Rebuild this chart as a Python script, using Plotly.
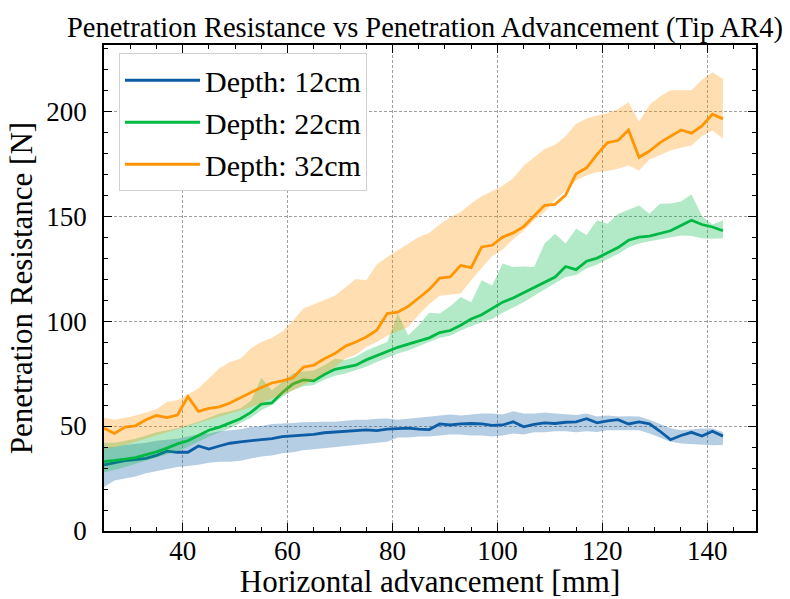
import plotly.graph_objects as go

x_mm = list(range(25, 145, 2))

d12_mean = [31.5, 32.5, 33.5, 34, 34.6, 36, 38, 37.5, 37.5, 40.5, 39, 40.5, 41.8, 42.5, 43, 43.5, 44, 45, 45.3, 45.5,
            46, 46.8, 47.2, 47.6, 48, 48.2, 47.8, 48.5, 48.8, 49, 48.5, 48.3, 51, 50.5, 51, 51.2, 51, 50.3, 50.5, 52,
            49.6, 50.8, 51.5, 51.2, 51.8, 52, 53.5, 51.5, 52.5, 53, 51, 52, 51, 47.5, 43.5, 45.5, 47, 45.2, 47.5, 45.2]
d12_low = [21, 24, 25, 26, 27.5, 28.5, 29.5, 30.5, 31, 31.5, 32.5, 33, 33, 33.5, 34.5, 35.5, 36, 37, 37.5, 38.5,
           39, 39.5, 40, 40.5, 41, 41.5, 42, 42.5, 44.5, 44.5, 45, 45, 45.5, 46, 46, 45.5, 45.5, 45, 45.5, 46.5,
           46, 47, 47, 47.5, 47.5, 47, 47.5, 47.2, 48, 48, 48, 48, 46.5, 44.5, 42.5, 41.7, 41.5, 41, 40.9, 41]
d12_high = [40, 40, 41, 41.5, 42, 43, 43.5, 44, 45, 46, 46.5, 47.5, 48, 48.5, 49.5, 50, 51, 51.4, 51.5, 51.8,
            52, 52, 52, 52.5, 53, 53, 53.5, 53.6, 53, 53.5, 54, 54.5, 55.2, 55.5, 55, 55.5, 56, 56, 55.5, 57,
            56, 56, 56.5, 56, 55.5, 55.2, 56, 54.5, 55, 54.5, 54.7, 54.5, 53, 51, 49, 48, 48.5, 48.8, 48.8, 47.2]

d22_mean = [33, 33.5, 34.2, 35, 36.3, 37.7, 39.5, 41.5, 43, 45.5, 48, 49.5, 51.5, 53.5, 56.5, 60.5, 61, 66, 70, 72,
            71.5, 74.5, 77, 78, 79, 81.5, 83.5, 85.5, 87.5, 89, 90.5, 92, 94.5, 95.5, 98, 101, 103, 106, 109, 111,
            113.5, 116, 118.5, 121, 126, 124.5, 128.5, 130, 132.5, 135, 138.5, 140, 140.5, 141.6, 143, 145.5, 148, 146, 144.8, 143]
d22_low = [28, 29, 30.5, 32, 33.5, 35, 36.5, 38, 40, 42.5, 45, 47, 49, 51.5, 54, 57.5, 60, 64, 67, 69,
           69.5, 72, 74, 75, 76.5, 78.2, 80.5, 82.5, 84.5, 86, 88, 90, 92, 93, 95.5, 97.5, 99.5, 101, 104, 106.5,
           109, 112, 115, 118, 121, 122, 125, 127, 129.5, 132, 135, 137, 138, 139, 140, 140.8, 140.5, 139.5, 139.2, 139.5]
d22_high = [42, 42, 43, 44, 45.5, 47, 48, 49, 50.5, 52, 54, 56, 57, 58.5, 62, 73, 67, 71, 75, 76,
            76.5, 79, 82, 81.5, 83, 86, 88, 90, 103.6, 93.2, 98, 104, 103.6, 107, 111.5, 109, 119.4, 117, 127.4, 125.7,
            126, 125.7, 137, 141.6, 137, 144, 141, 148, 146.4, 151, 153, 155, 151.1, 155.9, 156, 157, 160.3, 150, 146, 148]

d32_mean = [49, 46.5, 49.5, 50.1, 53, 55, 54, 55.2, 64, 57, 58.4, 59.1, 61, 63.5, 66, 68.4, 70.5, 71.5, 73, 78,
            79, 82, 84.5, 88, 90, 92.4, 95.6, 103.6, 104.3, 107, 111, 115, 120.5, 121, 126.5, 125.4, 135.3, 136.1, 140, 142,
            145, 150, 155.1, 155.6, 160, 170.2, 173, 179.4, 185, 186, 191, 178, 181, 185, 188, 191, 189.5, 193, 198.5, 196.3]
d32_low = [39, 40, 41, 42.5, 44, 45.5, 47, 48.5, 50, 51.5, 53, 54.5, 56, 57.5, 59, 61, 63, 65, 67, 69.5,
           72, 75, 78, 82, 84, 87.7, 90, 93, 95, 97.2, 103, 108, 112, 112.5, 113.1, 119.4, 125, 131, 134, 139,
           143, 148, 152, 158, 162, 167, 169.5, 170.9, 171.5, 172.5, 174.1, 171.7, 177, 179, 181.3, 182.5, 183.6, 188, 190.8, 186.8]
d32_high = [54, 53, 54, 55, 56.5, 58, 61.5, 62.3, 65, 68, 72.6, 77.5, 80.5, 82, 87, 90, 92, 95, 100, 106,
            108, 109.9, 112, 116, 120, 119.4, 127, 130.5, 133.7, 137, 140, 142, 146, 149.5, 151.9, 156, 159.5, 162, 164.5, 168,
            174, 178, 182, 184, 188, 194, 196.5, 197.9, 199, 201, 204.2, 195, 203, 207, 210, 210, 210, 215, 218.5, 215.4]

series = [
    ("Depth: 12cm", d12_mean, d12_low, d12_high, "#0C5DA5", "rgba(12,93,165,0.3)"),
    ("Depth: 22cm", d22_mean, d22_low, d22_high, "#00B945", "rgba(0,185,69,0.3)"),
    ("Depth: 32cm", d32_mean, d32_low, d32_high, "#FF9500", "rgba(255,149,0,0.3)"),
]

FONT = "Liberation Serif"
fig = go.Figure()
for name, mean, low, high, col, fillcol in series:
    fig.add_trace(go.Scatter(x=x_mm, y=low, mode="lines", line=dict(width=0, color=fillcol),
                             showlegend=False, hoverinfo="skip"))
    fig.add_trace(go.Scatter(x=x_mm, y=high, mode="lines", line=dict(width=0, color=fillcol),
                             fill="tonexty", fillcolor=fillcol, showlegend=False, hoverinfo="skip"))
    fig.add_trace(go.Scatter(x=x_mm, y=mean, mode="lines", name=name, line=dict(width=2.8, color=col)))

axis_common = dict(
    showline=True, linecolor="black", linewidth=1.5, mirror="allticks",
    ticks="inside", ticklen=8, tickwidth=1, tickcolor="black",
    showgrid=True, gridcolor="#a0a0a0", gridwidth=0.7, griddash="3px,2px",
    zeroline=False, tickfont=dict(family=FONT, size=27, color="black"),
    automargin=False,
)

fig.update_xaxes(
    range=[25, 149.3], tickvals=[40, 60, 80, 100, 120, 140],
    minor=dict(ticks="inside", ticklen=4, tickwidth=1, tickcolor="black", dtick=5, tick0=0, showgrid=False),
    title=dict(text="Horizontal advancement [mm]", font=dict(family=FONT, size=31, color="black"), standoff=0),
    ticklabelstandoff=-5,
    **axis_common,
)
fig.update_yaxes(
    range=[0, 231.5], tickvals=[0, 50, 100, 150, 200],
    minor=dict(ticks="inside", ticklen=4, tickwidth=1, tickcolor="black", dtick=10, tick0=0, showgrid=False),
    title=dict(text="Penetration Resistance [N]", font=dict(family=FONT, size=31, color="black"), standoff=4),
    ticklabelstandoff=10,
    **axis_common,
)

fig.update_layout(
    width=790, height=599,
    margin=dict(l=104, r=34, t=45, b=68),
    paper_bgcolor="white", plot_bgcolor="white",
    title=dict(text="Penetration Resistance vs Penetration Advancement (Tip AR4)",
               font=dict(family=FONT, size=28.5, color="black"),
               x=0.538, xanchor="center", y=1 - 27 / 599, yanchor="middle"),
    legend=dict(x=0.023, y=0.983, xanchor="left", yanchor="top", traceorder="normal",
                itemwidth=75,
                bgcolor="white", bordercolor="#d0d0d0", borderwidth=1,
                font=dict(family=FONT, size=30, color="black")),
    showlegend=True,
)

fig.write_html("out.html")
